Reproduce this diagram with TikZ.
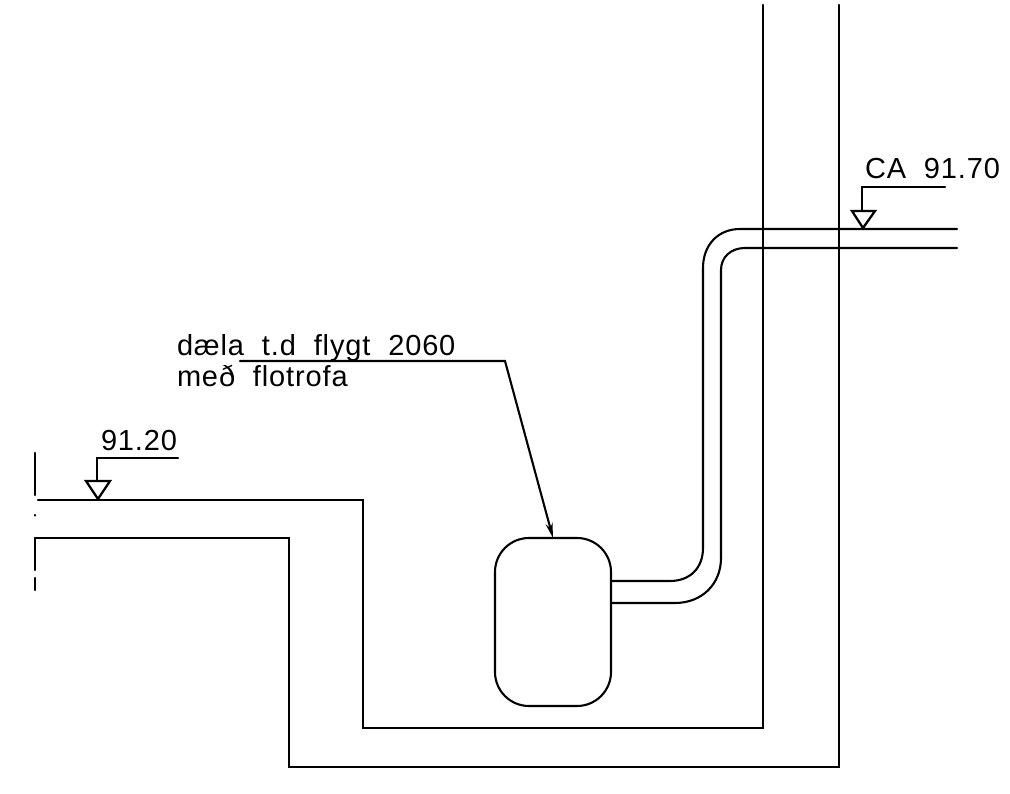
\documentclass[tikz,border=0pt]{standalone}
\usepackage{fontspec}
\setmainfont[LetterSpace=3,WordSpace=2]{Liberation Sans}
\usetikzlibrary{arrows.meta}
\tikzset{
  ln/.style={line width=2.1pt,line cap=round,line join=miter,black},
  lab/.style={anchor=base west,inner sep=0pt,outer sep=0pt,font=\fontsize{29}{29}\selectfont},
  level/.style={draw,line width=2.3pt,line join=miter,fill=white},
  pump/.style={draw,line width=2.1pt,rounded corners=34pt,minimum width=116pt,minimum height=168pt,inner sep=0pt,outer sep=0pt}
}
\begin{document}
\begin{tikzpicture}[x=1pt,y=-1pt]
\useasboundingbox (0,0) rectangle (1010,794);
% walls
\coordinate (wa) at (763,5); \coordinate (wb) at (763,728); \coordinate (wc) at (363,728); \coordinate (wd) at (363,500); \coordinate (we) at (38,500);
\draw[ln] (wa) -- (wb) -- (wc) -- (wd) -- (we);
\coordinate (xa) at (839,5); \coordinate (xb) at (839,767); \coordinate (xc) at (289,767); \coordinate (xd) at (289,538); \coordinate (xe) at (35,538);
\draw[ln] (xa) -- (xb) -- (xc) -- (xd) -- (xe);
% break line
\coordinate (b1) at (35,453); \coordinate (b2) at (35,495); \coordinate (b3) at (35,538); \coordinate (b4) at (35,570); \coordinate (b5) at (35,578); \coordinate (b6) at (35,590);
\coordinate (b7) at (35,515); \coordinate (b8) at (35,515.5);
\draw[ln] (b1) -- (b2) (b3) -- (b4) (b5) -- (b6) (b7) -- (b8);
% pump
\node[pump] (pmp) at (553,622) {};
% pipe
\coordinate (pa) at (611,581); \coordinate (pb) at (670,581); \coordinate (pc) at (703,548); \coordinate (pd) at (703,268); \coordinate (pe) at (740,229); \coordinate (pf) at (957,229);
\draw[ln] (pa) -- (pb) .. controls (690,581) and (703,568) .. (pc) -- (pd) .. controls (703,245) and (718,229) .. (pe) -- (pf);
\coordinate (qa) at (611,603); \coordinate (qb) at (675,603); \coordinate (qc) at (721,558); \coordinate (qd) at (721,270); \coordinate (qe) at (745,248); \coordinate (qf) at (957,248);
\draw[ln] (qa) -- (qb) .. controls (702,603) and (721,584) .. (qc) -- (qd) .. controls (721,257) and (731,248) .. (qe) -- (qf);
% level 91.20
\node[lab] (t1) at (101,450) {91.20};
\coordinate (l1a) at (178,458); \coordinate (l1b) at (97,458); \coordinate (l1c) at (97,481);
\draw[ln] (l1a) -- (l1b) -- (l1c);
\coordinate (l1p) at (98,499); \coordinate (l1q) at (86,481); \coordinate (l1r) at (110,481);
\draw[level] (l1q) -- (l1r) -- (l1p) -- cycle;
% level CA
\node[lab] (t2) at (865,179) {CA 91.70};
\coordinate (l2a) at (945,187); \coordinate (l2b) at (862,187); \coordinate (l2c) at (862,210);
\draw[ln] (l2a) -- (l2b) -- (l2c);
\coordinate (l2p) at (863,228); \coordinate (l2q) at (852,211); \coordinate (l2r) at (875,211);
\draw[level] (l2q) -- (l2r) -- (l2p) -- cycle;
% pump label
\node[lab] (t3) at (177,356) {dæla t.d flygt 2060};
\node[lab] (t4) at (177,387) {með flotrofa};
\coordinate (ld1) at (240,361); \coordinate (ld2) at (505,361);
\draw[ln,-{Stealth[length=15pt,width=7pt]}] (ld1) -- (ld2) -- (pmp.north);
\end{tikzpicture}
\end{document}
